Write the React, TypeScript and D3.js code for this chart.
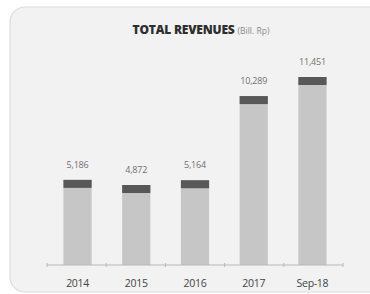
import React from 'react';
import * as d3 from "d3";

// revenue data (Bill. Rp)
const years = ["2014", "2015", "2016", "2017", "Sep-18"];
const revenues = [5186, 4872, 5164, 10289, 11451];
const valueLabels = ["5,186", "4,872", "5,164", "10,289", "11,451"];

const W = 370;
const H = 294;
const margin = { top: 74, right: 27, bottom: 29, left: 47 };
const capHeight = 8;

export default function App() {
  const innerW = W - margin.left - margin.right;
  const innerH = H - margin.top - margin.bottom;

  const x = d3.scaleBand<string>()
    .domain(years)
    .range([margin.left, margin.left + innerW])
    .paddingInner(0.52)
    .paddingOuter(0.28);

  const y = d3.scaleLinear()
    .domain([0, 11451])
    .range([margin.top + innerH, margin.top + innerH - 188]);

  const base = y(0);
  // tick marks at band boundaries
  const boundaries = d3.range(years.length + 1).map(i => margin.left + i * innerW / years.length);

  return (
    <div style={{ position: "fixed", left: 0, top: 0, background: "#fff" }}>
      <svg width={W} height={H} style={{ display: "block" }} fontFamily="'Open Sans', sans-serif">
        <rect x={10} y={7} width={W + 20} height={285} rx={15} fill="#f2f2f2" stroke="#dcdcdc" strokeWidth={1.2} />

        <text x={201} y={34} textAnchor="middle">
          <tspan fontSize={12} fontWeight={800} fill="#2e2e2e" letterSpacing={-0.2}>TOTAL REVENUES</tspan>
          <tspan fontSize={8.5} fill="#8a8a8a" dx={3}>(Bill. Rp)</tspan>
        </text>

        {years.map((yr, i) => {
          const bx = x(yr) as number;
          const top = y(revenues[i]);
          return (
            <g key={yr}>
              <rect x={bx} y={top} width={x.bandwidth()} height={base - top} fill="#c6c6c6" />
              <rect x={bx} y={top} width={x.bandwidth()} height={capHeight} fill="#585858" />
              <text x={bx + x.bandwidth() / 2} y={top - 12} textAnchor="middle" fontSize={9} fill="#707070" letterSpacing={-0.2}>
                {valueLabels[i]}
              </text>
              <text x={bx + x.bandwidth() / 2} y={base + 22} textAnchor="middle" fontSize={10.5} fill="#444" letterSpacing={-0.3}>
                {yr}
              </text>
            </g>
          );
        })}

        <line x1={margin.left} x2={margin.left + innerW} y1={base} y2={base} stroke="#b8b8b8" strokeWidth={1} />
        {boundaries.map((bx, i) => (
          <line key={i} x1={bx} x2={bx} y1={base - 2} y2={base + 2} stroke="#b8b8b8" strokeWidth={1} />
        ))}
      </svg>
    </div>
  );
}
